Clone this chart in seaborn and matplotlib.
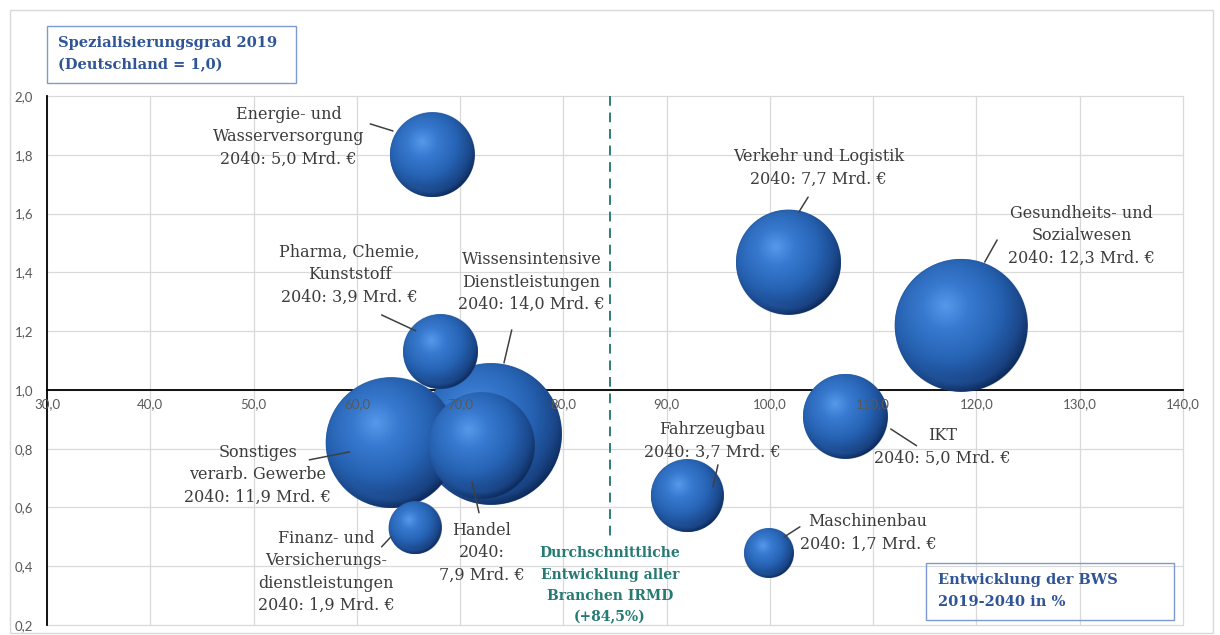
import numpy as np
import pandas as pd
import matplotlib
matplotlib.use("Agg")
import matplotlib.pyplot as plt
from matplotlib.patches import Rectangle
import seaborn as sns

# --- data -------------------------------------------------------------
branchen = [
    "Energie- und Wasserversorgung", "Pharma, Chemie, Kunststoff",
    "Wissensintensive Dienstleistungen", "Handel", "Sonstiges verarb. Gewerbe",
    "Finanz- und Versicherungsdienstleistungen", "Verkehr und Logistik",
    "Gesundheits- und Sozialwesen", "IKT", "Fahrzeugbau", "Maschinenbau",
]
# Entwicklung der BWS 2019-2040 in %
entwicklung = [67.3, 68.1, 73.0, 72.0, 63.3, 65.6, 101.8, 118.5, 107.3, 92.0, 99.9]
# Spezialisierungsgrad 2019 (Deutschland = 1,0)
spezialisierung = [1.80, 1.13, 0.85, 0.81, 0.82, 0.53, 1.435, 1.22, 0.91, 0.64, 0.445]
# BWS 2040 in Mrd. EUR (bubble size)
bws_2040 = [5.0, 3.9, 14.0, 7.9, 11.9, 1.9, 7.7, 12.3, 5.0, 3.7, 1.7]

label_namen = [
    "Energie- und\nWasserversorgung", "Pharma, Chemie,\nKunststoff",
    "Wissensintensive\nDienstleistungen", "Handel\n", "Sonstiges\nverarb. Gewerbe",
    "Finanz- und\nVersicherungs-\ndienstleistungen", "Verkehr und Logistik",
    "Gesundheits- und\nSozialwesen", "IKT", "Fahrzeugbau", "Maschinenbau",
]
label_x = [53.4, 59.3, 76.9, 72.1, 50.4, 57.0, 104.7, 130.2, 116.7, 94.4, 109.5]
label_y = [1.861, 1.391, 1.367, 0.446, 0.711, 0.381, 1.755, 1.524, 0.806, 0.827, 0.514]
leader_x0 = [61.3, 62.4, 75.0, 71.15, 55.4, 62.4, 103.7, 122.0, 111.7, 94.97, 102.9]
leader_y0 = [1.905, 1.255, 1.204, 0.687, 0.762, 0.466, 1.656, 1.510, 0.867, 0.745, 0.534]
leader_x1 = [63.5, 65.7, 74.25, 71.83, 59.3, 63.3, 102.8, 120.8, 114.2, 94.49, 101.4]
leader_y1 = [1.881, 1.201, 1.092, 0.582, 0.789, 0.500, 1.605, 1.435, 0.810, 0.670, 0.500]

x_ticks = [30, 40, 50, 60, 70, 80, 90, 100, 110, 120, 130, 140]
y_ticks = [0.2, 0.4, 0.6, 0.8, 1.0, 1.2, 1.4, 1.6, 1.8, 2.0]
durchschnitt = 84.5
durchschnitt_linie_ende = 0.50

df = pd.DataFrame({"branche": branchen, "entwicklung": entwicklung,
                   "spezialisierung": spezialisierung, "bws": bws_2040})


def fmt(v):
    return f"{v:.1f}".replace(".", ",")


def mrd(v):
    return f"2040: {fmt(v)} Mrd. €"


# --- figure -----------------------------------------------------------
sns.set_style("white")
plt.rcParams["font.family"] = ["DejaVu Serif"]

W, H = 1220, 635
fig = plt.figure(figsize=(W / 100, H / 100), dpi=100)
fig.patch.set_facecolor("white")
fig.add_artist(Rectangle((9.5 / W, 2 / H), 1203 / W, 623 / H, transform=fig.transFigure,
                         fill=False, edgecolor="#d9d9d9", lw=1.0))

ax = fig.add_axes([47 / W, 1 - 625 / H, (1183 - 47) / W, (625 - 96) / H])
ax.set_facecolor("none")
ax.set_xlim(30, 140)
ax.set_ylim(0.2, 2.0)

# grid
for xv in x_ticks:
    ax.axvline(xv, color="#d9d9d9", lw=0.9, zorder=0.5, clip_on=False)
for yv in y_ticks:
    ax.axhline(yv, color="#d9d9d9", lw=0.9, zorder=0.5, clip_on=False)

# axes lines: x axis crosses at 1,0
for s in ["top", "right"]:
    ax.spines[s].set_visible(False)
ax.spines["bottom"].set_position(("data", 1.0))
ax.spines["bottom"].set_color("black")
ax.spines["bottom"].set_linewidth(1.3)
ax.spines["bottom"].set_zorder(1)
ax.spines["left"].set_color("black")
ax.spines["left"].set_linewidth(1.3)
ax.spines["left"].set_zorder(1)

ax.set_xticks(x_ticks)
ax.set_xticklabels([fmt(v) for v in x_ticks])
ax.set_yticks(y_ticks)
ax.set_yticklabels([fmt(v) for v in y_ticks])
ax.tick_params(axis="x", length=0, pad=6, labelsize=9.5, labelcolor="#595959")
ax.tick_params(axis="y", length=0, pad=10, labelsize=9.5, labelcolor="#595959")
for lab in ax.get_xticklabels() + ax.get_yticklabels():
    lab.set_family(["Lato", "DejaVu Sans"])
ax.xaxis.set_zorder(40)

# dashed average line
ax.plot([durchschnitt, durchschnitt], [2.0, durchschnitt_linie_ende], color="#2e7d7a",
        lw=1.4, ls=(0, (5, 3.5)), zorder=2)

# bubbles: area proportional to BWS 2040
vmax = max(bws_2040)
s_max = 741 * vmax
sns.scatterplot(data=df, x="entwicklung", y="spezialisierung", size="bws",
                sizes=(0, s_max), size_norm=(0, vmax), color="#235aa3",
                linewidth=0, legend=False, ax=ax, zorder=2)
ax.set_xlabel("")
ax.set_ylabel("")
coll = ax.collections[0]
offsets = coll.get_offsets()
sizes = coll.get_sizes()


def sphere(n=320):
    """RGBA image of a glossy blue ball lit from the upper left."""
    t = np.linspace(-1, 1, n)
    u, v = np.meshgrid(t, -t)
    rho = np.sqrt(u ** 2 + v ** 2)
    z = np.sqrt(np.clip(1 - rho ** 2, 0, 1))
    d = np.sqrt((u + 0.24) ** 2 + (v - 0.30) ** 2)
    stops = [0.0, 0.35, 0.82, 1.15, 1.35, 1.52]
    cols = np.array([
        [0.34, 0.60, 0.92],
        [0.22, 0.48, 0.82],
        [0.15, 0.39, 0.71],
        [0.11, 0.29, 0.56],
        [0.06, 0.19, 0.40],
        [0.03, 0.11, 0.26],
    ])
    col = np.dstack([np.interp(d, stops, cols[:, c]) for c in range(3)])
    # slight darkening right at the silhouette
    edge = 0.88 + 0.12 * np.clip(z, 0, 1) ** 0.35
    col = col * edge[..., None]
    # faint reflected light along the lower rim
    rim = np.exp(-((rho - 0.86) ** 2) / 0.004) * np.clip(-v - 0.3, 0, 1)
    col = col + (np.array([0.17, 0.40, 0.72]) - col) * (rim * 0.35)[..., None]
    alpha = np.clip((1 - rho) * n / 2 + 0.5, 0, 1)
    return np.dstack([np.clip(col, 0, 1), alpha])


img = sphere()
order = np.argsort(-sizes)
inv = ax.transData.inverted()
for rank, i in enumerate(order):
    r = np.sqrt(sizes[i]) / 2 * fig.dpi / 72
    cx, cy = ax.transData.transform(offsets[i])
    x0, y0 = inv.transform((cx - r, cy - r))
    x1, y1 = inv.transform((cx + r, cy + r))
    ax.imshow(img, extent=(x0, x1, y0, y1), aspect="auto", interpolation="bilinear",
              zorder=3 + rank * 0.1)
ax.set_xlim(30, 140)
ax.set_ylim(0.2, 2.0)

# data labels with leader lines
text_kw = dict(fontsize=11.5, color="#3c3c3c", ha="center", va="center",
               linespacing=1.42, zorder=30)
for i in range(len(branchen)):
    if branchen[i] == "Handel":
        txt = "Handel\n2040:\n" + f"{fmt(bws_2040[i])} Mrd. €"
    else:
        txt = label_namen[i] + "\n" + mrd(bws_2040[i])
    ax.text(label_x[i], label_y[i], txt, **text_kw)
    ax.plot([leader_x0[i], leader_x1[i]], [leader_y0[i], leader_y1[i]],
            color="#404040", lw=1.1, zorder=25)

ax.text(durchschnitt, 0.335, "Durchschnittliche\nEntwicklung aller\nBranchen IRMD\n(+84,5%)",
        fontsize=10, fontweight="bold", color="#267a74", ha="center", va="center",
        linespacing=1.65, zorder=30)

# title boxes
box_col = "#7f9ad0"
fig.add_artist(Rectangle((47 / W, 1 - 83 / H), 249 / W, 57 / H, transform=fig.transFigure,
                         facecolor="white", edgecolor=box_col, lw=1.0))
fig.text(58 / W, 1 - 54 / H, "Spezialisierungsgrad 2019\n(Deutschland = 1,0)",
         fontsize=10.5, fontweight="bold", color="#2f5597", ha="left", va="center",
         linespacing=1.75)
fig.add_artist(Rectangle((926 / W, 1 - 620 / H), 248 / W, 57 / H, transform=fig.transFigure,
                         fill=False, edgecolor=box_col, lw=1.0, zorder=50))
fig.text(938 / W, 1 - 591 / H, "Entwicklung der BWS\n2019-2040 in %",
         fontsize=10.5, fontweight="bold", color="#2f5597", ha="left", va="center",
         linespacing=1.75, zorder=51)

fig.savefig("out.png", dpi=100, facecolor="white")
